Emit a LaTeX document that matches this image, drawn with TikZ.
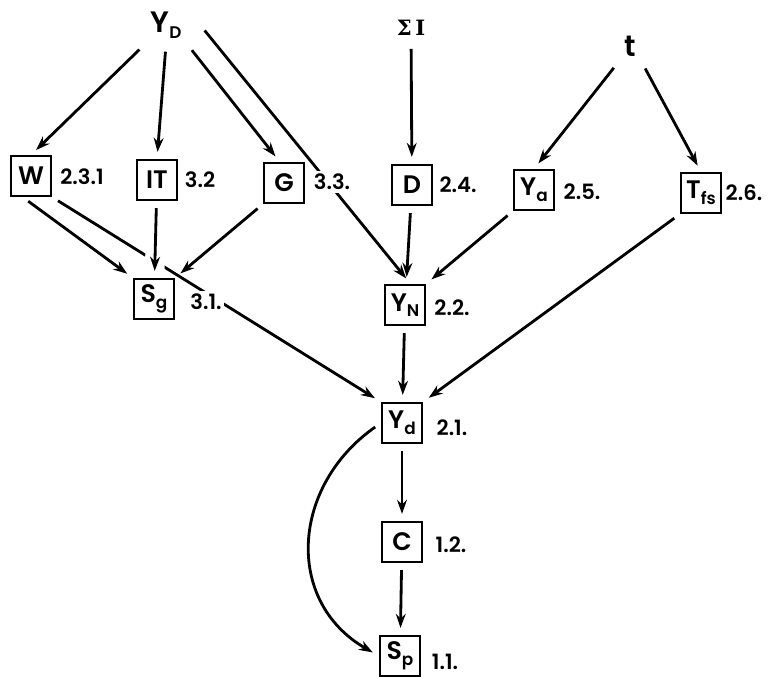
\documentclass[tikz,border=0pt]{standalone}
\usepackage{fontspec}
\setmainfont{Poppins}[BoldFont={Poppins SemiBold}]
\newfontfamily\greekfont{DejaVu Serif}
\usetikzlibrary{arrows.meta}
\newcommand{\subtxt}[1]{\raisebox{-0.4ex}{\fontsize{12}{12}\selectfont #1}}

\begin{document}
\begin{tikzpicture}[
    line width=2pt,
    >={Stealth[length=10pt,width=7pt]},
    box/.style={draw, line width=1.5pt, minimum size=1cm, inner sep=0pt, font=\fontsize{18}{20}\bfseries},
    var/.style={font=\fontsize{21}{22}\bfseries},
    num/.style={fill=white, inner sep=2pt, font=\fontsize{15}{16}\bfseries},
    arr/.style={->, shorten >=5pt, shorten <=5pt},
  ]
  \useasboundingbox (0,0) rectangle (19.2,-16.95);
  % top variables
  \node[var] (YD) at (4.15,-0.625) {Y\subtxt{D}};
  \node[var, font=\fontsize{15}{16}\greekfont\bfseries] (SI) at (10.275,-0.7) {Σ\,I};
  \node[var] (t) at (15.75,-1.15) {t};
  % boxes
  \node[box] (W) at (0.775,-4.4) {W};
  \node[box] (IT) at (3.925,-4.5) {IT};
  \node[box] (G) at (7.1,-4.575) {G};
  \node[box] (D) at (10.3,-4.625) {D};
  \node[box] (Ya) at (13.35,-4.75) {Y\subtxt{a}};
  \node[box] (Tfs) at (17.525,-4.825) {T\subtxt{fs}};
  \node[box] (Sg) at (3.85,-7.475) {S\subtxt{g}};
  \node[box] (YN) at (10.125,-7.625) {Y\subtxt{N}};
  \node[box] (Yd) at (10.05,-10.575) {Y\subtxt{d}};
  \node[box] (C) at (10.05,-13.55) {C};
  \node[box] (Sp) at (10.0,-16.4) {S\subtxt{p}};
  % arrows
  \draw[arr] (YD.south west) -- (W.north);
  \draw[arr] (YD.south) -- (IT.north);
  \draw[arr] (YD.south east) -- ([xshift=-3pt]G.north);
  \draw[arr] ([xshift=9pt]YD.east) -- ([xshift=4pt]YN.north);
  \draw[arr] (SI) -- (D);
  \draw[arr] (t.south west) -- (Ya.north);
  \draw[arr] (t.south east) -- (Tfs.north);
  \draw[arr] ([xshift=-6pt]W.south) -- (Sg.north west);
  \draw[arr] (W.south east) -- (Yd.north west);
  \draw[arr, preaction={draw, white, line width=14pt, -}] (IT) -- (Sg);
  \draw[arr] (G.south west) -- (Sg.north east);
  \draw[arr] (D) -- (YN);
  \draw[arr] (Ya.south west) -- (YN.north east);
  \draw[arr] (Tfs.south west) -- (Yd.north east);
  \draw[arr] (YN) -- (Yd);
  \draw[arr] (Yd) -- (C);
  \draw[arr] (C) -- (Sp);
  \draw[arr] (Yd.west) to[out=215, in=150, looseness=1.2] (Sp.west);
  % section numbers
  \node[num] (nW) at (2.05,-4.425) {2.3.1};
  \node[num] (nIT) at (5.0,-4.5) {3.2};
  \node[num] (nG) at (8.3,-4.55) {3.3.};
  \node[num] (nD) at (11.45,-4.625) {2.4.};
  \node[num] (nYa) at (14.55,-4.8) {2.5.};
  \node[num] (nTfs) at (18.6,-4.825) {2.6.};
  \node[num] (nSg) at (5.15,-7.55) {3.1.};
  \node[num] (nYN) at (11.3,-7.7) {2.2.};
  \node[num] (nYd) at (11.3,-10.7) {2.1.};
  \node[num] (nC) at (11.275,-13.625) {1.2.};
  \node[num] (nSp) at (11.125,-16.55) {1.1.};
\end{tikzpicture}
\end{document}
